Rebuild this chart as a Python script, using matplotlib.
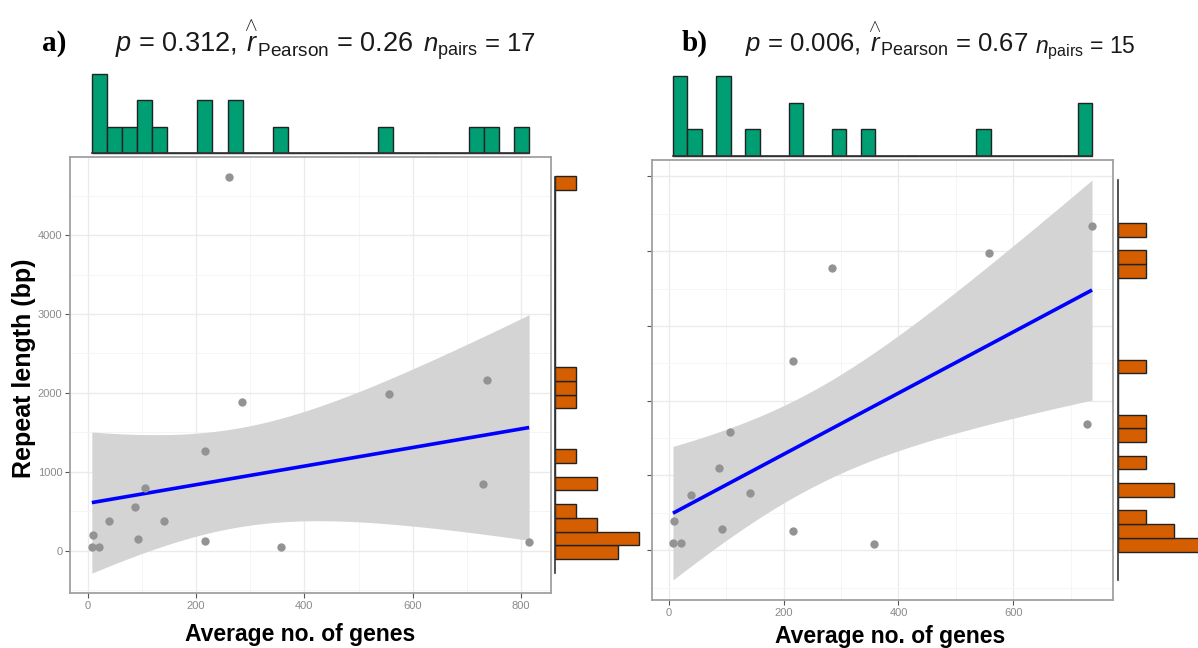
"""
Average no. of genes vs repeat length, two panels with marginal histograms
"""
import numpy as np
import matplotlib
matplotlib.use('Agg')
import matplotlib.pyplot as plt
from matplotlib.ticker import MultipleLocator, NullFormatter

plt.rcParams['font.family'] = ['Liberation Sans', 'DejaVu Sans']
plt.rcParams['mathtext.fontset'] = 'custom'
plt.rcParams['mathtext.rm'] = 'Liberation Sans'
plt.rcParams['mathtext.it'] = 'Liberation Sans:italic'
plt.rcParams['mathtext.bf'] = 'Liberation Sans:bold'

# panel a: all 17 pairs
genes_a = [7.4, 10, 21.5, 39, 87, 93, 106, 141, 217, 217, 260, 285, 357, 557, 729, 737, 815]
repeat_a = [51, 198, 51, 371, 553, 143, 789, 380, 1266, 127, 4740, 1890, 42, 1985, 844, 2169, 114]
# panel b: 15 pairs
genes_b = [7.4, 10, 21.5, 39, 87, 93, 106, 141, 217, 217, 285, 357, 557, 729, 737]
repeat_b = [51, 198, 51, 371, 553, 143, 789, 380, 1266, 127, 1890, 42, 1985, 844, 2169]

title_a = (r'$p$ = 0.312, $\overset{\wedge}{r}_{\mathrm{Pearson}}$ = 0.26', r'$n_{\mathrm{pairs}}$ = 17')
title_b = (r'$p$ = 0.006, $\overset{\wedge}{r}_{\mathrm{Pearson}}$ = 0.67', r'$n_{\mathrm{pairs}}$ = 15')

# marginal histogram bins
n_xbins = 29
ybins_a = (-105, 4750, 28)
ybins_b = (-9, 2190, 24)
t975 = {17: 2.131, 15: 2.160}  # t quantile for the 95% band, df = n - 2

W, H = 1198, 648
fig = plt.figure(figsize=(W / 100, H / 100), dpi=100)


def box(l, t, r, b):
    return [l / W, 1 - b / H, (r - l) / W, (b - t) / H]


def fx(px):
    return px / W


def fy(py):
    return 1 - py / H


def panel(x, y, ybins, main, top, right, ystep, ylabels):
    x = np.asarray(x, float)
    y = np.asarray(y, float)
    n = len(x)
    slope, icpt = np.polyfit(x, y, 1)
    xs = np.linspace(x.min(), x.max(), 100)
    yh = icpt + slope * xs
    s = np.sqrt(np.sum((y - icpt - slope * x) ** 2) / (n - 2))
    se = s * np.sqrt(1 / n + (xs - x.mean()) ** 2 / np.sum((x - x.mean()) ** 2))
    lo, hi = yh - t975[n] * se, yh + t975[n] * se

    ax = fig.add_axes(box(*main))
    ax.fill_between(xs, lo, hi, color='#d4d4d4', lw=0, zorder=2)
    ax.plot(xs, yh, color='#0000ff', lw=2.6, zorder=3, solid_capstyle='butt')
    ax.scatter(x, y, s=36, color='#939393', lw=0, zorder=4)
    x0, x1 = x.min(), x.max()
    y0, y1 = min(lo.min(), y.min()), max(hi.max(), y.max())
    ax.set_xlim(x0 - 0.05 * (x1 - x0), x1 + 0.05 * (x1 - x0))
    ax.set_ylim(y0 - 0.05 * (y1 - y0), y1 + 0.05 * (y1 - y0))
    ax.xaxis.set_major_locator(MultipleLocator(200))
    ax.xaxis.set_minor_locator(MultipleLocator(100))
    ax.yaxis.set_major_locator(MultipleLocator(ystep))
    ax.yaxis.set_minor_locator(MultipleLocator(ystep / 2))
    ax.grid(which='major', color='#ebebeb', lw=1.0)
    ax.grid(which='minor', color='#f5f5f5', lw=0.7)
    ax.set_axisbelow(True)
    for sp in ax.spines.values():
        sp.set_color('#a0a0a0')
        sp.set_linewidth(1.3)
    ax.tick_params(which='minor', length=0)
    ax.tick_params(which='major', length=3.5, width=0.8, color='#555555',
                   labelsize=8, labelcolor='#8a8a8a', pad=2)
    if not ylabels:
        ax.yaxis.set_major_formatter(NullFormatter())

    # top marginal histogram
    edges = np.linspace(x0, x1, n_xbins + 1)
    cnt, _ = np.histogram(x, edges)
    axt = fig.add_axes(box(*top))
    axt.bar(edges[:-1], cnt, width=np.diff(edges), align='edge', color='#009e73',
            edgecolor='#222222', lw=1.0, clip_on=False)
    axt.set_xlim(ax.get_xlim())
    axt.set_ylim(0, cnt.max())
    for k in ['top', 'left', 'right']:
        axt.spines[k].set_visible(False)
    axt.spines['bottom'].set_bounds(x0, x1)
    axt.spines['bottom'].set_color('#333333')
    axt.spines['bottom'].set_linewidth(1.2)
    axt.set_xticks([])
    axt.set_yticks([])
    axt.patch.set_visible(False)

    # right marginal histogram
    yedges = np.linspace(*ybins[:2], ybins[2] + 1)
    ycnt, _ = np.histogram(y, yedges)
    axr = fig.add_axes(box(*right))
    axr.barh(yedges[:-1], ycnt, height=np.diff(yedges), align='edge', color='#d55e00',
             edgecolor='#222222', lw=1.0, clip_on=False)
    axr.set_ylim(ax.get_ylim())
    axr.set_xlim(0, ycnt.max())
    for k in ['top', 'bottom', 'right']:
        axr.spines[k].set_visible(False)
    axr.spines['left'].set_bounds(y0, y1)
    axr.spines['left'].set_color('#333333')
    axr.spines['left'].set_linewidth(1.2)
    axr.set_xticks([])
    axr.set_yticks([])
    axr.patch.set_visible(False)
    return ax


panel(genes_a, repeat_a, ybins_a, (70, 157, 551, 593), (70, 74, 551, 153.3),
      (555, 157, 639, 593), 1000, True)
panel(genes_b, repeat_b, ybins_b, (652, 160, 1113, 600), (652, 76, 1113, 155.7),
      (1117.7, 160, 1201.7, 600), 500, False)

# titles and panel letters
fig.text(fx(42), fy(51), 'a)', family=['Liberation Serif', 'DejaVu Serif'], weight='bold',
         fontsize=21, va='baseline')
fig.text(fx(682), fy(51), 'b)', family=['Liberation Serif', 'DejaVu Serif'], weight='bold',
         fontsize=21, va='baseline')
fig.text(fx(115), fy(52), title_a[0], fontsize=19.5, va='baseline', color='#1a1a1a')
fig.text(fx(423), fy(52), title_a[1], fontsize=18.5, va='baseline', color='#1a1a1a')
fig.text(fx(745), fy(53), title_b[0], fontsize=18.5, va='baseline', color='#1a1a1a')
fig.text(fx(1035), fy(53), title_b[1], fontsize=16.5, va='baseline', color='#1a1a1a')

# axis titles
fig.text(fx(24), fy(368), 'Repeat length (bp)', rotation=90, weight='bold', fontsize=18,
         ha='center', va='center')
fig.text(fx(300), fy(634), 'Average no. of genes', weight='bold',
         fontsize=16.5, ha='center', va='center')
fig.text(fx(890), fy(636), 'Average no. of genes', weight='bold',
         fontsize=16.5, ha='center', va='center')

fig.savefig('out.png', dpi=100)
